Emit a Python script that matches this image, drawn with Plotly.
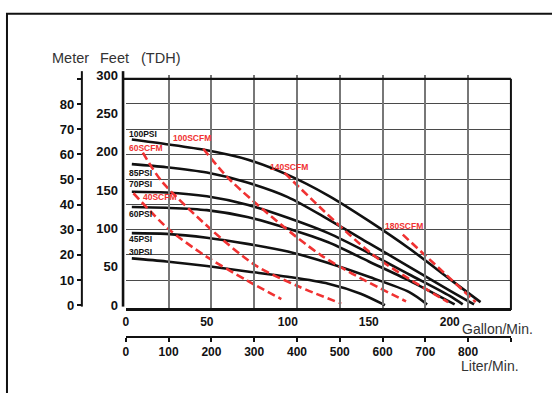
import plotly.graph_objects as go

W, H = 552, 393

# ---------------- data (gallons per minute, feet of head) ----------------
psi_names = ["100PSI", "85PSI", "70PSI", "60PSI", "45PSI", "30PSI"]
psi_gpm = [
    [3.7, 25, 50, 75, 100, 125, 150, 175, 200, 219],
    [3.7, 25, 50, 75, 100, 125, 150, 175, 200, 215],
    [3.7, 25, 50, 75, 100, 125, 150, 175, 200, 208],
    [3.7, 25, 50, 75, 100, 125, 150, 175, 203],
    [3.7, 25, 50, 75, 100, 125, 150, 175, 186],
    [3.7, 25, 50, 75, 100, 125, 145, 160],
]
psi_ft = [
    [216, 210, 202, 190, 170, 143, 110, 74, 34, 4],
    [184, 180, 173, 160, 141, 112, 81, 50, 19, 1],
    [148, 147, 142, 131, 114, 94, 68, 40, 12, 1],
    [128, 127, 124, 115, 100, 82, 57, 32, 1],
    [94, 93, 88, 80, 70, 55, 37, 17, 1],
    [61, 57, 51, 44, 37, 28, 15, 0],
]
psi_label_pos = [(0.8, 223), (0.8, 173), (0.8, 158), (0.8, 119), (0.8, 86.6), (0.8, 70)]

scfm_names = ["40SCFM", "60SCFM", "100SCFM", "140SCFM", "180SCFM"]
scfm_gpm = [
    [4.7, 26, 50, 75, 96],
    [10.5, 22, 53, 80, 106, 133],
    [47.8, 65, 120.6, 173],
    [98, 153, 199],
    [171, 216],
]
scfm_ft = [
    [146, 100, 63, 32, 8],
    [199, 162, 98, 52, 25, 2],
    [204, 162, 65, 5],
    [172.5, 65, 4],
    [92, 4],
]
scfm_label_pos = [(9.4, 141), (0.8, 205), (27.9, 217.5), (88, 180), (159, 103)]

gal_ticks = [0, 50, 100, 150, 200]
liter_ticks = [0, 100, 200, 300, 400, 500, 600, 700, 800, 900]
liter_text = ["0", "100", "200", "300", "400", "500", "600", "700", "800", ""]
meter_ticks = [0, 10, 20, 30, 40, 50, 60, 70, 80, 90]
meter_text = ["0", "10", "20", "30", "40", "50", "60", "70", "80", ""]
feet_ticks = [0, 50, 100, 150, 200, 250, 300]

L_PER_GAL = 3.78541
M_PER_FT = 0.3048

# ---------------- geometry helpers (pixels -> paper) ----------------
def px(x):
    return x / W

def py(y):
    return 1 - y / H

X0, X1 = 123.5, 510.7           # plot left/right (px)
Y_ZERO = 310.0                  # 0 ft / 0 m (px)
S = 0.797                        # px per foot
Y_TOP = Y_ZERO - 90 / M_PER_FT * S   # 90 m line
Y_BOT = 315.0                   # bottom of grid area (gallon axis line)
Y_300 = Y_ZERO - 300 * S

ft_lo = -(Y_BOT - Y_ZERO) / S
ft_hi = 90 / M_PER_FT
gal_hi = 900 / L_PER_GAL

FONT = "Liberation Sans, Arial, Helvetica, sans-serif"
y_tick_font = dict(family=FONT, size=13, color="#111", weight="bold")
x_tick_font = dict(family=FONT, size=12, color="#111", weight="bold")

fig = go.Figure()

for name, gx, fy in zip(psi_names, psi_gpm, psi_ft):
    fig.add_trace(go.Scatter(x=gx, y=fy, mode="lines", name=name,
                             line=dict(color="#111", width=2.6, shape="spline", smoothing=0.8),
                             showlegend=False, hoverinfo="skip"))
for name, gx, fy in zip(scfm_names, scfm_gpm, scfm_ft):
    fig.add_trace(go.Scatter(x=gx, y=fy, mode="lines", name=name,
                             line=dict(color="#f03232", width=2.6, dash="8px,4px", shape="spline", smoothing=0.8),
                             showlegend=False, hoverinfo="skip"))

# empty traces so that the liter/meter and feet-label axes get drawn
fig.add_trace(go.Scatter(x=[], y=[], xaxis="x2", yaxis="y2", showlegend=False, hoverinfo="skip"))
fig.add_trace(go.Scatter(x=[], y=[], xaxis="x", yaxis="y3", showlegend=False, hoverinfo="skip"))

annotations = []
for name, (gx, fy) in zip(psi_names, psi_label_pos):
    annotations.append(dict(x=gx, y=fy, xref="x", yref="y", text=name, showarrow=False,
                            xanchor="left", yanchor="middle",
                            font=dict(family=FONT, size=8.5, color="#111", weight="bold")))
for name, (gx, fy) in zip(scfm_names, scfm_label_pos):
    annotations.append(dict(x=gx, y=fy, xref="x", yref="y", text=name, showarrow=False,
                            xanchor="left", yanchor="middle",
                            font=dict(family=FONT, size=8.5, color="#f03232", weight="bold")))

title_font = dict(family=FONT, size=14.5, color="#333")
unit_font = dict(family=FONT, size=14, color="#333")
for txt, cx, cy in [("Meter", 68, 53), ("Feet", 112, 53), ("(TDH)", 158, 53)]:
    annotations.append(dict(x=px(cx), y=py(cy), xref="paper", yref="paper", text=txt,
                            showarrow=False, xanchor="center", yanchor="middle", font=title_font))
annotations.append(dict(x=px(459), y=py(334.5), xref="paper", yref="paper", text="Gallon/Min.",
                        showarrow=False, xanchor="left", yanchor="middle", font=unit_font))
annotations.append(dict(x=px(521), y=py(373.5), xref="paper", yref="paper", text="Liter/Min.",
                        showarrow=False, xanchor="right", yanchor="middle", font=unit_font))

shapes = [
    # outer frame
    dict(type="rect", xref="paper", yref="paper", x0=px(4), y0=py(7), x1=px(600), y1=py(450),
         line=dict(color="#111", width=2)),
    # meter axis line
    dict(type="line", xref="paper", yref="paper", x0=px(79.3), x1=px(79.3), y0=py(66.7), y1=py(311.5),
         line=dict(color="#111", width=2)),
    # feet axis line
    dict(type="line", xref="paper", yref="paper", x0=px(120.7), x1=px(120.7), y0=py(66.7), y1=py(311.5),
         line=dict(color="#111", width=2.6)),
    # top border (90 m)
    dict(type="line", xref="paper", yref="paper", x0=px(120.7), x1=px(X1), y0=py(Y_TOP), y1=py(Y_TOP),
         line=dict(color="#111", width=2.2)),
    # right border
    dict(type="line", xref="paper", yref="paper", x0=px(X1), x1=px(X1), y0=py(Y_TOP), y1=py(Y_BOT),
         line=dict(color="#111", width=2)),
]

fig.update_layout(
    width=W, height=H,
    margin=dict(l=0, r=0, t=0, b=0),
    paper_bgcolor="white", plot_bgcolor="rgba(0,0,0,0)",
    showlegend=False,
    annotations=annotations, shapes=shapes,
    # data axes: gallons / feet, with grid at liter / meter positions
    xaxis=dict(domain=[px(X0), px(X1)], range=[0, gal_hi], anchor="free", position=py(314.3),
               showline=True, linecolor="#111", linewidth=2.6, ticks="",
               tickmode="array", tickvals=gal_ticks, tickfont=x_tick_font,
               showgrid=False, zeroline=False,
               minor=dict(tickmode="array", tickvals=[v / L_PER_GAL for v in liter_ticks[1:-1]],
                          showgrid=True, gridcolor="#777", gridwidth=1.5, ticks="")),
    yaxis=dict(domain=[py(Y_BOT), py(Y_TOP)], range=[ft_lo, ft_hi], anchor="free", position=px(X0),
               showline=False, showticklabels=False, ticks="", showgrid=False, zeroline=False,
               minor=dict(tickmode="array", tickvals=[v / M_PER_FT for v in meter_ticks[1:-1]],
                          showgrid=True, gridcolor="#4a4a4a", gridwidth=1.3, ticks="")),
    # liter axis
    xaxis2=dict(overlaying="x", range=[0, 900], anchor="free", position=py(342.7),
                showline=True, linecolor="#111", linewidth=2.4, ticks="outside", ticklen=4, tickwidth=2,
                tickcolor="#111", tickmode="array", tickvals=liter_ticks, ticktext=liter_text,
                tickfont=x_tick_font, showgrid=False, zeroline=False),
    # meter axis
    yaxis2=dict(overlaying="y", range=[ft_lo * M_PER_FT, 90], anchor="free", position=px(79.3), side="left",
                showline=False, ticks="outside", ticklen=5, tickwidth=2, tickcolor="#111",
                tickmode="array", tickvals=meter_ticks, ticktext=meter_text, tickfont=y_tick_font,
                showgrid=False, zeroline=False),
    # feet label axis
    yaxis3=dict(domain=[py(Y_ZERO), py(Y_300)], range=[0, 300], anchor="free", position=px(120.7), side="left",
                showline=False, ticks="", ticklabelstandoff=5, tickmode="array", tickvals=feet_ticks,
                tickfont=y_tick_font, showgrid=False, zeroline=False),
)

fig.write_html("out.html", config={"displayModeBar": False},
               post_script="document.body.style.margin='0px';")
